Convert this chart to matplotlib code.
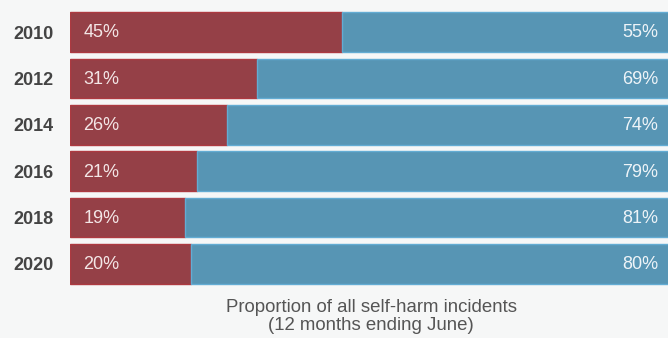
import matplotlib.pyplot as plt

years = ['2010', '2012', '2014', '2016', '2018', '2020']
share_a = [45, 31, 26, 21, 19, 20]
share_b = [55, 69, 74, 79, 81, 80]

bg = '#f6f7f7'
red = '#954047'
red_edge = '#ad3a41'
blue = '#5795b4'
blue_edge = '#63acd3'

plt.rcParams['font.family'] = ['Liberation Sans', 'DejaVu Sans']

fig = plt.figure(figsize=(6.68, 3.38), dpi=100, facecolor=bg)
# axis runs a bit past the right edge, the same way the bars are cut off
ax = fig.add_axes([70 / 668, 1 - 287.2 / 338, 604 / 668, 278.4 / 338])
ax.set_facecolor(bg)

pos = list(range(len(years)))
ax.barh(pos, share_a, height=0.85, color=red, edgecolor=red_edge, linewidth=1)
ax.barh(pos, share_b, left=share_a, height=0.85, color=blue, edgecolor=blue_edge, linewidth=1)

for i, (a, b) in enumerate(zip(share_a, share_b)):
    ax.text(2.2, i + 0.02, f'{a}%', color='#f3e6e6', fontsize=13, va='center', ha='left')
    ax.text(a + b - 2.6, i + 0.02, f'{b}%', color='#eef4f8', fontsize=13, va='center', ha='right')

ax.set_xlim(0, 100)
ax.set_ylim(len(years) - 0.5, -0.5)
ax.set_yticks(pos)
ax.set_yticklabels(years, fontsize=13, fontweight='bold', color='#444444')
ax.tick_params(axis='y', length=0, pad=12)
ax.set_xticks([])
for s in ax.spines.values():
    s.set_visible(False)

fig.text(371 / 668, 1 - 316.5 / 338, 'Proportion of all self-harm incidents\n(12 months ending June)',
         ha='center', va='center', fontsize=13.4, color='#555555', linespacing=1.13)

fig.savefig('out.png', dpi=100, facecolor=bg)
